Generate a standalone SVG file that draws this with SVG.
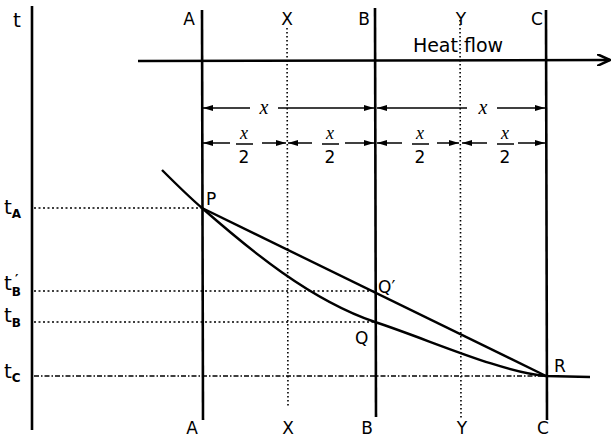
<svg xmlns="http://www.w3.org/2000/svg" width="614" height="440" viewBox="0 0 614 440">
<defs>
<marker id="ah" viewBox="0 0 10 6" refX="10" refY="3" markerWidth="10" markerHeight="6" markerUnits="userSpaceOnUse" orient="auto">
<path d="M0,0 L10,3 L0,6 Z" fill="#000"/>
</marker>
<marker id="big" viewBox="0 0 14 12" refX="13" refY="6" markerWidth="14" markerHeight="12" markerUnits="userSpaceOnUse" orient="auto">
<path d="M0,0 L13,6 L0,12" fill="none" stroke="#000" stroke-width="2.5"/>
</marker>
<style>
.ax{stroke:#000;stroke-width:2.6;fill:none}
.dv{stroke:#000;stroke-width:1.6;stroke-dasharray:1.5 2.5;fill:none}
.dh{stroke:#000;stroke-width:1.4;stroke-dasharray:2 2.5;fill:none}
.dc{stroke:#000;stroke-width:1.4;stroke-dasharray:5 2 1.5 2;fill:none}
.dim{stroke:#000;stroke-width:1.5;fill:none;marker-end:url(#ah)}
.cv{stroke:#000;stroke-width:2.4;fill:none}
text{font-family:"DejaVu Sans","Liberation Sans",sans-serif;font-size:17px;fill:#000}
.c{text-anchor:middle}
.ix{font-family:"Liberation Serif",serif;font-style:italic;font-size:20px}
.tl{font-size:20px}
.sub{font-size:12px;font-weight:bold}
.fb{stroke:#000;stroke-width:1.5}
</style>
</defs>

<g id="axes">
<line class="ax" x1="32" y1="6" x2="32" y2="430"/>
<line class="ax" x1="202" y1="10" x2="203" y2="420"/>
<line class="dv" x1="287" y1="28" x2="288" y2="408"/>
<line class="ax" x1="375" y1="8" x2="376" y2="417"/>
<line class="dv" x1="460" y1="20" x2="461" y2="420"/>
<line class="ax" x1="546" y1="10" x2="547" y2="420"/>
</g>

<g id="heatflow">
<line x1="138" y1="61" x2="610" y2="60" stroke="#000" stroke-width="2.4" marker-end="url(#big)"/>
<text x="458" y="52" class="c" style="font-size:19px">Heat flow</text>
</g>

<g id="top-labels">
<text x="17" y="27" class="c tl">t</text>
<text x="189" y="25" class="c">A</text>
<text x="287" y="25" class="c">X</text>
<text x="364" y="25" class="c">B</text>
<text x="461" y="25" class="c">Y</text>
<text x="537" y="25" class="c">C</text>
</g>

<g id="dimensions">
<line class="dim" x1="250" y1="108" x2="203" y2="108"/>
<text x="264" y="114" class="c ix">x</text>
<line class="dim" x1="278" y1="108" x2="374" y2="108"/>
<line class="dim" x1="467" y1="108" x2="377" y2="108"/>
<text x="483" y="114" class="c ix">x</text>
<line class="dim" x1="497" y1="108" x2="545" y2="108"/>

<line class="dim" x1="230" y1="143" x2="203" y2="143"/>
<line class="dim" x1="262" y1="143" x2="286" y2="143"/>
<line class="dim" x1="312" y1="143" x2="288" y2="143"/>
<line class="dim" x1="345" y1="143" x2="374" y2="143"/>
<line class="dim" x1="402" y1="143" x2="377" y2="143"/>
<line class="dim" x1="437" y1="143" x2="459" y2="143"/>
<line class="dim" x1="487" y1="143" x2="462" y2="143"/>
<line class="dim" x1="518" y1="143" x2="545" y2="143"/>

<text x="244" y="139" class="c ix" style="font-size:18px">x</text>
<line class="fb" x1="236" y1="144" x2="253" y2="144"/>
<text x="244" y="163" class="c">2</text>
<text x="330" y="139" class="c ix" style="font-size:18px">x</text>
<line class="fb" x1="322" y1="144" x2="339" y2="144"/>
<text x="330" y="163" class="c">2</text>
<text x="420" y="139" class="c ix" style="font-size:18px">x</text>
<line class="fb" x1="412" y1="144" x2="429" y2="144"/>
<text x="420" y="163" class="c">2</text>
<text x="505" y="139" class="c ix" style="font-size:18px">x</text>
<line class="fb" x1="497" y1="144" x2="514" y2="144"/>
<text x="505" y="163" class="c">2</text>
</g>

<g id="levels">
<line class="dh" x1="34" y1="208" x2="202" y2="208"/>
<line class="dh" x1="34" y1="291" x2="375" y2="291"/>
<line class="dh" x1="34" y1="322" x2="375" y2="322"/>
<line class="dc" x1="34" y1="376" x2="546" y2="376"/>
<text x="4" y="214" class="tl">t<tspan class="sub" dy="4">A</tspan></text>
<text x="4" y="290" class="tl">t<tspan class="sub" dy="6">B</tspan></text>
<text x="15" y="283" class="sub" style="font-size:13px">′</text>
<text x="4" y="322" class="tl">t<tspan class="sub" dy="5">B</tspan></text>
<text x="4" y="378" class="tl">t<tspan class="sub" dy="4">C</tspan></text>
</g>

<g id="curves">
<path class="cv" d="M202,208 L546,376"/>
<path class="cv" d="M162,170 C175,183 188,196 202,208 C250,250 310,300 375,322 C430,340 500,372 546,376 L590,377"/>
</g>

<g id="points">
<text x="206" y="205">P</text>
<text x="378" y="293">Q′</text>
<text x="355" y="344">Q</text>
<text x="554" y="372">R</text>
</g>

<g id="bottom-labels">
<text x="192" y="434" class="c">A</text>
<text x="288" y="434" class="c">X</text>
<text x="367" y="434" class="c">B</text>
<text x="462" y="434" class="c">Y</text>
<text x="543" y="434" class="c">C</text>
</g>
</svg>
